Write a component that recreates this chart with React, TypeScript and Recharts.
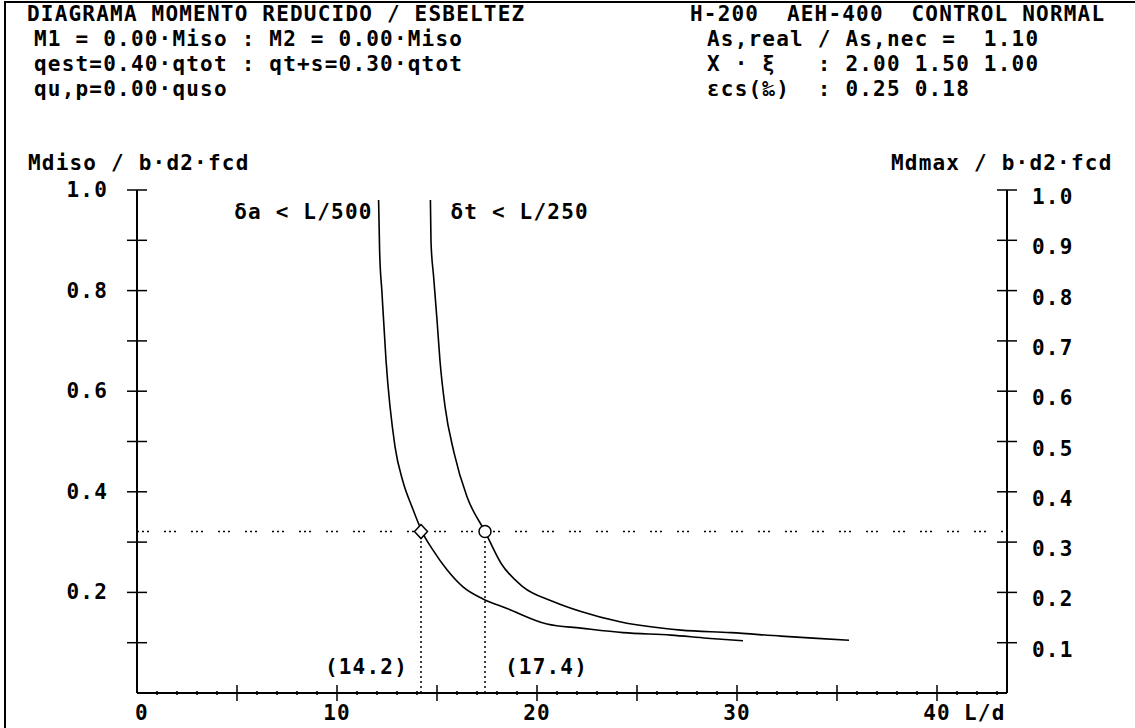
import React from "react";
import {
  ComposedChart,
  Line,
  Scatter,
  XAxis,
  YAxis,
  ReferenceLine,
  ReferenceDot,
} from "recharts";

// curve δa < L/500 (slenderness L/d, reduced moment)
const curveAX = [12.08, 12.13, 12.25, 12.45, 12.9, 13.3, 13.75, 14.25, 14.8, 15.5, 16.3, 17.3, 18.5, 20.5, 22.2, 24.3, 26.7, 28.5, 30.3];
const curveAY = [0.98, 0.88, 0.795, 0.662, 0.49, 0.42, 0.37, 0.321, 0.284, 0.245, 0.211, 0.187, 0.168, 0.137, 0.129, 0.12, 0.115, 0.109, 0.104];

// curve δt < L/250
const curveBX = [14.67, 14.7, 14.83, 15.0, 15.15, 15.4, 15.85, 16.5, 17.4, 18.2, 19.3, 20.8, 22.2, 24.2, 27.2, 29.7, 32.2, 33.8, 35.6];
const curveBY = [0.98, 0.897, 0.828, 0.742, 0.66, 0.57, 0.478, 0.39, 0.321, 0.258, 0.211, 0.182, 0.162, 0.141, 0.125, 0.12, 0.113, 0.109, 0.105];

const cutY = 0.321;
const cutXA = 14.2;
const cutXB = 17.4;

const yTicks = [0.1, 0.2, 0.3, 0.4, 0.5, 0.6, 0.7, 0.8, 0.9, 1.0];
const xLabels = [0, 10, 20, 30, 40];
const xTicks = Array.from({ length: 44 }, (_, i) => i);

const headLeft = [
  "DIAGRAMA MOMENTO REDUCIDO / ESBELTEZ",
  "M1 = 0.00·Miso : M2 = 0.00·Miso",
  "qest=0.40·qtot : qt+s=0.30·qtot",
  "qu,p=0.00·quso",
];
const headRight = [
  "H-200  AEH-400  CONTROL NORMAL",
  "As,real / As,nec =  1.10",
  "X · ξ   : 2.00 1.50 1.00",
  "εcs(‰)  : 0.25 0.18",
];

const FONT = "'DejaVu Sans Mono', monospace";
const FS = 21;
const LS = 1.2;

const textStyle: React.CSSProperties = {
  position: "absolute",
  fontFamily: FONT,
  fontSize: FS,
  fontWeight: "bold",
  letterSpacing: LS,
  lineHeight: "25px",
  whiteSpace: "pre",
  color: "#000",
};

const svgText = { fontFamily: FONT, fontSize: FS, fontWeight: "bold", letterSpacing: LS, fill: "#000" };

const toPts = (xs: number[], ys: number[]) => xs.map((x, i) => ({ x, y: ys[i] }));
const curveA = toPts(curveAX, curveAY);
const curveB = toPts(curveBX, curveBY);

function LeftTick({ x, y, payload }: any) {
  const v = payload.value;
  const show = Math.round(v * 10) % 2 === 0;
  return (
    <g>
      <line x1={x - 10} x2={x + 10} y1={y} y2={y} stroke="#000" strokeWidth={1.5} />
      {show && (
        <text x={x - 29} y={y} textAnchor="end" dominantBaseline="central" {...svgText}>
          {v.toFixed(1)}
        </text>
      )}
    </g>
  );
}

function RightTick({ x, y, payload }: any) {
  return (
    <g>
      <line x1={x - 10} x2={x + 10} y1={y} y2={y} stroke="#000" strokeWidth={1.5} />
      <text x={x + 25} y={y + 7} textAnchor="start" dominantBaseline="central" {...svgText}>
        {payload.value.toFixed(1)}
      </text>
    </g>
  );
}

function BottomTick({ x, y, payload }: any) {
  const v = payload.value;
  const major = v % 5 === 0;
  const h = major ? 8 : 2;
  return (
    <g>
      {v > 0 && <line x1={x} x2={x} y1={y - h} y2={y + h} stroke="#000" strokeWidth={1.5} />}
      {xLabels.includes(v) && (
        <text x={x + (v === 0 ? 5 : 0)} y={y + 20} textAnchor="middle" dominantBaseline="central" {...svgText}>
          {String(v)}
        </text>
      )}
      {v === 40 && (
        <text x={x + 27} y={y + 20} textAnchor="start" dominantBaseline="central" {...svgText}>
          L/d
        </text>
      )}
    </g>
  );
}

const diamond = (p: any) => (
  <path
    d={`M${p.cx},${p.cy - 7} L${p.cx + 6.5},${p.cy} L${p.cx},${p.cy + 7} L${p.cx - 6.5},${p.cy} Z`}
    fill="#fff"
    stroke="#000"
    strokeWidth={1.5}
  />
);
const ring = (p: any) => <circle cx={p.cx} cy={p.cy} r={6} fill="#fff" stroke="#000" strokeWidth={1.5} />;

export default function App() {
  return (
    <div style={{ position: "absolute", left: 0, top: 0, width: 1135, height: 728, background: "#fff", overflow: "hidden" }}>
      <div style={{ position: "absolute", left: 4, top: 1, width: 1135, height: 2, background: "#000" }} />
      <div style={{ position: "absolute", left: 4, top: 1, width: 2, height: 728, background: "#000" }} />

      <div style={{ ...textStyle, left: 27, top: 2 }}>{headLeft[0]}</div>
      <div style={{ ...textStyle, left: 34, top: 27 }}>{headLeft.slice(1).join("\n")}</div>
      <div style={{ ...textStyle, left: 690, top: 2 }}>{headRight[0]}</div>
      <div style={{ ...textStyle, left: 707, top: 27 }}>{headRight.slice(1).join("\n")}</div>

      <div style={{ ...textStyle, left: 28, top: 151 }}>Mdiso / b·d2·fcd</div>
      <div style={{ ...textStyle, left: 891, top: 151 }}>Mdmax / b·d2·fcd</div>

      <div style={{ position: "absolute", left: 0, top: 0 }}>
        <ComposedChart width={1135} height={728} margin={{ top: 190, right: 0, bottom: 0, left: 0 }}>
          <XAxis
            type="number"
            dataKey="x"
            domain={[0, 43.5]}
            allowDataOverflow
            ticks={xTicks}
            interval={0}
            height={35}
            tickSize={0}
            tickMargin={0}
            tickLine={false}
            axisLine={{ stroke: "#000", strokeWidth: 2 }}
            tick={<BottomTick />}
          />
          <YAxis
            type="number"
            domain={[0, 1]}
            allowDataOverflow
            ticks={yTicks}
            interval={0}
            width={137}
            tickSize={0}
            tickMargin={0}
            tickLine={false}
            axisLine={{ stroke: "#000", strokeWidth: 2 }}
            tick={<LeftTick />}
          />
          <YAxis
            yAxisId="r"
            orientation="right"
            type="number"
            domain={[0, 1]}
            allowDataOverflow
            ticks={yTicks}
            interval={0}
            width={128}
            tickSize={0}
            tickMargin={0}
            tickLine={false}
            axisLine={{ stroke: "#000", strokeWidth: 2 }}
            tick={<RightTick />}
          />

          <ReferenceLine y={cutY} stroke="#000" strokeWidth={1.5} strokeDasharray="2 3 2 3 2 15" />
          <ReferenceLine
            segment={[{ x: cutXA, y: 0 }, { x: cutXA, y: cutY }]}
            stroke="#000"
            strokeWidth={1.5}
            strokeDasharray="2 3"
          />
          <ReferenceLine
            segment={[{ x: cutXB, y: 0 }, { x: cutXB, y: cutY }]}
            stroke="#000"
            strokeWidth={1.5}
            strokeDasharray="2 3"
          />

          <Line data={curveA} dataKey="y" type="monotone" stroke="#000" strokeWidth={1.6} dot={false} isAnimationActive={false} />
          <Line data={curveB} dataKey="y" type="monotone" stroke="#000" strokeWidth={1.6} dot={false} isAnimationActive={false} />

          <Scatter data={[{ x: cutXA, y: cutY }]} dataKey="y" shape={diamond} isAnimationActive={false} />
          <Scatter data={[{ x: cutXB, y: cutY }]} dataKey="y" shape={ring} isAnimationActive={false} />

          <ReferenceDot
            x={cutXA}
            y={0.052}
            r={0}
            fill="none"
            stroke="none"
            label={{ value: `(${cutXA})`, position: "left", offset: 13, ...svgText }}
          />
          <ReferenceDot
            x={cutXB}
            y={0.052}
            r={0}
            fill="none"
            stroke="none"
            label={{ value: `(${cutXB})`, position: "right", offset: 20, ...svgText }}
          />
          <ReferenceDot
            x={curveAX[0]}
            y={0.957}
            r={0}
            fill="none"
            stroke="none"
            label={{ value: "δa < L/500", position: "left", offset: 6, ...svgText }}
          />
          <ReferenceDot
            x={curveBX[0]}
            y={0.957}
            r={0}
            fill="none"
            stroke="none"
            label={{ value: "δt < L/250", position: "right", offset: 20, ...svgText }}
          />
        </ComposedChart>
      </div>
    </div>
  );
}
